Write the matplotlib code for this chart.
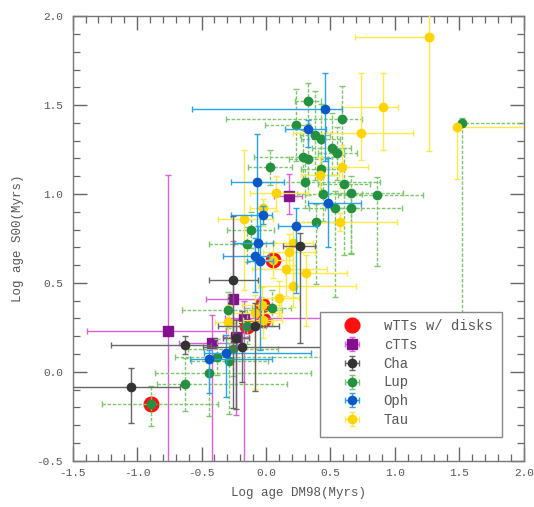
import matplotlib
matplotlib.use("Agg")
import matplotlib.pyplot as plt
from matplotlib.ticker import MultipleLocator, FormatStrFormatter
from matplotlib.patches import Rectangle

# ---------------- data ----------------
tau_x = [1.267, 0.905, 0.737, 1.484, 0.592, 0.419, 0.077, -0.021, -0.169, 0.574, 0.211,
         0.180, 0.155, 0.310, 0.211, 0.103, -0.086, -0.293, -0.034, -0.026, 0.056]
tau_y = [1.881, 1.490, 1.341, 1.375, 1.153, 1.106, 1.003, 0.919, 0.859, 0.844, 0.722,
         0.675, 0.576, 0.557, 0.482, 0.413, 0.332, 0.278, 0.375, 0.291, 0.628]
tau_xlo = [0.58, 0.32, 0.53, 0.02, 0.20, 0.15, 0.20, 0.10, 0.20, 0.34, 0.15,
           0.20, 0.26, 0.16, 0.27, 0.15, 0.20, 0.10, 0.15, 0.15, 0.15]
tau_xhi = [0.03, 0.12, 0.40, 0.60, 0.20, 0.15, 0.25, 0.10, 0.22, 0.44, 0.15,
           0.20, 0.32, 0.32, 0.49, 0.15, 0.20, 0.35, 0.15, 0.15, 0.15]
tau_ylo = [0.64, 0.24, 0.15, 0.29, 0.12, 0.10, 0.10, 0.10, 0.40, 0.05, 0.30,
           0.10, 0.15, 0.30, 0.12, 0.10, 0.43, 0.10, 0.10, 0.10, 0.10]
tau_yhi = [0.64, 0.19, 0.34, 0.02, 0.12, 0.10, 0.10, 0.05, 0.39, 0.05, 0.10,
           0.10, 0.15, 0.10, 0.12, 0.10, 0.10, 0.10, 0.10, 0.10, 0.10]

lup_x = [0.328, 0.592, 0.232, 0.380, 0.424, 0.509, 0.553, 0.289, 0.328, 0.031, 0.424,
         0.302, 0.607, 0.444, 0.659, 0.858, 0.535, 0.657, 0.385, -0.119, -0.150, 0.044,
         -0.293, -0.150, -0.254, -0.383, -0.285, -0.440, -0.626, -0.895, 1.522]
lup_y = [1.523, 1.420, 1.388, 1.331, 1.309, 1.256, 1.228, 1.209, 1.195, 1.150, 1.140,
         1.069, 1.056, 0.999, 1.003, 0.994, 0.919, 0.919, 0.844, 0.797, 0.717, 0.357,
         0.347, 0.257, 0.126, 0.084, 0.062, -0.009, -0.071, -0.183, 1.400]
lup_xlo = [0.10, 0.90, 0.24, 0.12, 0.15, 0.15, 0.15, 0.38, 0.15, 0.17, 0.15,
           0.35, 0.20, 0.20, 0.25, 0.30, 0.20, 0.20, 0.15, 0.18, 0.29, 0.15,
           0.36, 0.15, 0.35, 0.32, 0.30, 0.42, 0.22, 0.38, 0.02]
lup_xhi = [0.10, 0.15, 0.10, 0.12, 0.15, 0.15, 0.15, 0.26, 0.15, 0.17, 0.15,
           0.58, 0.20, 0.30, 0.40, 0.36, 0.20, 0.40, 0.15, 0.18, 0.15, 0.15,
           0.42, 0.15, 0.35, 0.83, 0.30, 0.79, 0.79, 0.52, 0.60]
lup_ylo = [0.15, 0.20, 0.20, 0.25, 0.20, 0.15, 0.15, 0.15, 0.20, 0.10, 0.15,
           0.15, 0.40, 0.15, 0.34, 0.40, 0.50, 0.25, 0.35, 0.10, 0.10, 0.10,
           0.10, 0.10, 0.15, 0.10, 0.30, 0.24, 0.15, 0.12, 1.10]
lup_yhi = [0.10, 0.19, 0.20, 0.25, 0.20, 0.20, 0.15, 0.15, 0.20, 0.10, 0.15,
           0.15, 0.20, 0.15, 0.10, 0.10, 0.10, 0.10, 0.10, 0.10, 0.10, 0.10,
           0.10, 0.10, 0.15, 0.10, 0.10, 0.10, 0.15, 0.10, 0.03]

oph_x = [0.457, 0.328, -0.068, 0.478, -0.021, 0.232, -0.065, -0.086, -0.047, -0.311, -0.440]
oph_y = [1.478, 1.365, 1.069, 0.951, 0.881, 0.821, 0.722, 0.651, 0.624, 0.107, 0.070]
oph_xlo = [1.03, 0.18, 0.20, 0.15, 0.25, 0.14, 0.18, 0.25, 0.10, 0.17, 0.15]
oph_xhi = [0.13, 0.14, 0.21, 0.26, 0.07, 0.16, 0.12, 0.11, 0.10, 0.66, 0.49]
oph_ylo = [0.29, 0.10, 0.37, 0.25, 0.05, 0.38, 0.10, 0.20, 0.50, 0.25, 0.19]
oph_yhi = [0.20, 0.05, 0.27, 0.25, 0.05, 0.10, 0.10, 0.10, 0.27, 0.10, 0.05]

cha_x = [0.263, -0.259, -0.086, -0.233, -0.629, -0.189, -1.050]
cha_y = [0.709, 0.516, 0.259, 0.190, 0.150, 0.141, -0.088]
cha_xlo = [0.13, 0.18, 0.29, 0.10, 0.57, 0.30, 0.50]
cha_xhi = [0.12, 0.20, 0.19, 0.10, 0.20, 0.77, 0.38]
cha_ylo = [0.55, 0.72, 0.37, 0.40, 0.05, 0.20, 0.20]
cha_yhi = [0.07, 0.36, 0.13, 0.10, 0.05, 0.20, 0.11]

ctts_x = [0.180, -0.254, -0.169, -0.758, -0.233, -0.422]
ctts_y = [0.990, 0.407, 0.300, 0.231, 0.197, 0.160]
ctts_xlo = [0.12, 0.21, 0.15, 0.63, 0.10, 0.25]
ctts_xhi = [0.10, 0.20, 0.90, 0.45, 0.10, 0.20]
ctts_ylo = [0.10, 0.20, 0.85, 0.90, 0.44, 0.80]
ctts_yhi = [0.12, 0.33, 0.10, 0.875, 0.10, 0.16]

wtts_x = [0.056, -0.034, -0.026, -0.150, -0.895]
wtts_y = [0.628, 0.375, 0.291, 0.257, -0.183]

labels = ["wTTs w/ disks", "cTTs", "Cha", "Lup", "Oph", "Tau"]

# ---------------- figure ----------------
FONT = "Liberation Mono"
plt.rcParams["font.family"] = [FONT, "DejaVu Sans"]

fig = plt.figure(figsize=(5.34, 5.07), dpi=100)
ax = fig.add_axes([0.136, 0.0915, 0.845, 0.8765])

cap = 2.5
lw = 1.0

# wTTs w/ disks: red circles underneath
n_w = len(wtts_x)
h_w = ax.errorbar(wtts_x, wtts_y, xerr=[[0] * n_w, [0] * n_w], yerr=[[0] * n_w, [0] * n_w],
                  fmt="o", ms=10.5, color="#ff1010", mec="#ff1010", ecolor="#ff6060",
                  elinewidth=lw, capsize=cap, zorder=3, label=labels[0])

# cTTs
h_c = ax.errorbar(ctts_x, ctts_y, xerr=[ctts_xlo, ctts_xhi], yerr=[ctts_ylo, ctts_yhi],
                  fmt="s", ms=7.5, color="#85108f", mec="#85108f", ecolor="#d763d7",
                  elinewidth=lw, capsize=cap, zorder=4, label=labels[1])

# Lup (dashed bars)
h_l = ax.errorbar(lup_x, lup_y, xerr=[lup_xlo, lup_xhi], yerr=[lup_ylo, lup_yhi],
                  fmt="o", ms=6, color="#23913f", mec="#23913f", ecolor="#7fc66f",
                  elinewidth=lw, capsize=cap, zorder=5, label=labels[3])
for coll in h_l[2]:
    coll.set_linestyle((0, (2.5, 1.2)))

# Tau
h_t = ax.errorbar(tau_x, tau_y, xerr=[tau_xlo, tau_xhi], yerr=[tau_ylo, tau_yhi],
                  fmt="o", ms=6, color="#ffd400", mec="#ffd400", ecolor="#ffe84a",
                  elinewidth=lw, capsize=cap, zorder=5, label=labels[5])

# Oph
h_o = ax.errorbar(oph_x, oph_y, xerr=[oph_xlo, oph_xhi], yerr=[oph_ylo, oph_yhi],
                  fmt="o", ms=6, color="#0a58c8", mec="#0a58c8", ecolor="#2aa3e6",
                  elinewidth=lw, capsize=cap, zorder=6, label=labels[4])

# Cha
h_k = ax.errorbar(cha_x, cha_y, xerr=[cha_xlo, cha_xhi], yerr=[cha_ylo, cha_yhi],
                  fmt="o", ms=6, color="#333333", mec="#333333", ecolor="#666666",
                  elinewidth=lw, capsize=cap, zorder=7, label=labels[2])

ax.set_xlim(-1.5, 2.0)
ax.set_ylim(-0.5, 2.0)
ax.xaxis.set_major_locator(MultipleLocator(0.5))
ax.xaxis.set_minor_locator(MultipleLocator(0.1))
ax.yaxis.set_major_locator(MultipleLocator(0.5))
ax.yaxis.set_minor_locator(MultipleLocator(0.1))
ax.tick_params(which="both", direction="in", top=True, right=True,
               colors="#666666", labelcolor="#555555", labelsize=8)
ax.tick_params(which="major", length=10, width=1)
ax.tick_params(which="minor", length=5, width=0.9)
ax.tick_params(axis="y", which="major", pad=7)
ax.tick_params(axis="x", which="major", pad=5)
ax.xaxis.set_major_formatter(FormatStrFormatter("%.1f"))
ax.yaxis.set_major_formatter(FormatStrFormatter("%.1f"))
for s in ax.spines.values():
    s.set_color("#777777")
    s.set_linewidth(1.0)

ax.set_xlabel("Log age DM98(Myrs)", fontsize=9, color="#555555", labelpad=7)
ax.set_ylabel("Log age S00(Myrs)", fontsize=9, color="#555555", labelpad=9)

# legend frame drawn separately so the handle inset matches the reference
ax.add_patch(Rectangle((0.548, 0.053), 0.403, 0.281, transform=ax.transAxes,
                       fill=True, facecolor="white", edgecolor="#888888",
                       linewidth=1.0, zorder=20))
handles = [h_w, h_c, h_k, h_l, h_o, h_t]
leg = ax.legend(handles, labels, loc="upper left", bbox_to_anchor=(0.594, 0.318),
                fontsize=10, frameon=False, labelspacing=0.34, handlelength=1.6,
                handletextpad=1.5, borderpad=0, borderaxespad=0)
leg.set_zorder(21)
for t in leg.get_texts():
    t.set_color("#555555")

fig.savefig("out.png", dpi=100)
